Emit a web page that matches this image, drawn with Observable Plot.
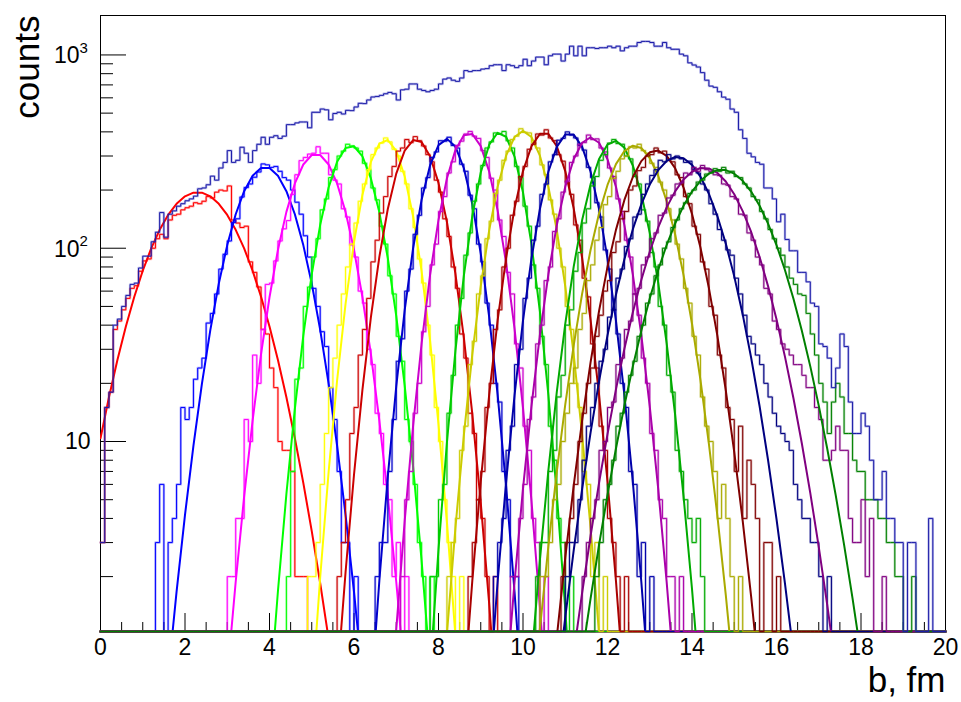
<!DOCTYPE html>
<html>
<head>
<meta charset="utf-8">
<script src="https://cdn.jsdelivr.net/npm/d3@7"></script>
<script src="https://cdn.jsdelivr.net/npm/@observablehq/plot@0.6"></script>
<style>
  body { margin: 0; background: #fff; }
  #chart { width: 961px; height: 702px; }
</style>
</head>
<body>
<div id="chart"></div>
<script>
// Impact-parameter distributions: inclusive histogram, 19 selected classes and their Gaussian fits.
const binWidth = 0.1;     // fm
const nBins = 200;        // 0 .. 20 fm

// Inclusive histogram (counts per 0.1 fm bin)
const totalCounts = [
  3, 15, 18, 40, 43, 50, 57, 65, 66, 79,
  91, 91, 108, 121, 153, 114, 150, 156, 165, 170,
  176, 180, 186, 203, 205, 213, 236, 225, 260, 278,
  320, 278, 285, 333, 310, 278, 320, 345, 375, 345,
  375, 382, 370, 380, 436, 436, 445, 450, 450, 420,
  505, 505, 525, 520, 462, 498, 505, 495, 517, 515,
  538, 562, 560, 585, 606, 610, 618, 630, 640, 630,
  585, 660, 665, 708, 708, 665, 655, 645, 655, 665,
  708, 750, 760, 740, 730, 760, 830, 820, 830, 830,
  845, 850, 880, 890, 890, 830, 890, 880, 860, 880,
  950, 880, 930, 975, 975, 890, 990, 1010, 1010, 930,
  1010, 1110, 990, 1110, 990, 1090, 1090, 1080, 1090, 1090,
  1110, 1090, 1110, 1050, 1090, 1110, 1110, 1160, 1175, 1175,
  1160, 1110, 1110, 1160, 1090, 1070, 1070, 1010, 990, 910,
  887, 866, 810, 740, 690, 680, 645, 605, 590, 525,
  505, 410, 370, 310, 297, 278, 272, 205, 205, 180,
  137, 150, 111, 97, 97, 75, 75, 67, 52, 50,
  32, 31, 27, 19, 24, 36, 31, 16, 11, 11,
  14, 12, 8, 5, 5, 7, 4, 4, 3, 3,
  0, 3, 3, 0, 0, 0, 4, 0, 0, 0
];

// Class histograms: first bin index and counts from there on
const h01 = [3,15,18,38,42,48,55,62,64,76, 86,88,100,112,118,112,140,148,150,158, 162,165,172,170,175,185,182,195,200,198, 210,140,135,128,130,85,75,63,38,36, 24,19,10,9,9,7,2,2,2];
const h02 = [3,6,0,3,4,6,15,13,15,21, 24,27,41,46,58,78,93,109,136,142, 184,206,215,233,248,273,270,262,265,250, 232,225,200,173,150,116,90,62,50,37, 31,19,13,7,3,3,0,2];
const h03 = [2,2,4,4,13,10,28,20,38,65, 66,86,109,126,139,190,240,284,295,307, 310,335,310,310,240,225,215,160,145,104, 90,60,52,30,25,14,11,6,5,2, 3,0,2];
const h04 = [2,7,21,24,50,63,90,112,158,180, 232,255,300,318,345,338,330,318,275,255, 205,178,130,105,72,58,35,26,13,10, 6,3,2,0,2];
const h05 = [2,2,3,6,11,19,27,40,58,80, 105,135,175,215,255,305,330,350,372,355, 325,300,250,215,160,128,88,66,40,28, 15,10,5,3,2,0,2];
const h06 = [2,3,5,11,15,28,38,55,85,110, 152,185,235,265,318,330,365,352,378,360, 338,305,280,225,195,142,115,80,62,36, 27,14,11,5,4,2,0,2];
const h07 = [2,3,3,7,13,26,34,60,78,118, 148,205,232,295,315,360,358,375,340,330, 272,250,188,160,105,85,52,40,20,16, 7,5,2,2];
const h08 = [2,5,7,14,20,37,50,82,105,155, 185,245,280,340,358,390,402,380,370,320, 295,230,200,140,115,75,58,32,24,12, 9,4,3,0,2];
const h09 = [2,2,5,6,14,22,40,55,92,120, 175,215,268,330,355,395,392,402,360,330, 265,232,165,130,82,62,35,25,12,8, 4,3,0,2];
const h10 = [2,3,4,9,12,25,33,58,72,112, 138,192,225,285,318,365,380,415,398,395, 352,330,270,240,178,150,100,80,50,38, 20,15,7,6,2,3,0,2];
const h11 = [2,3,5,7,15,20,38,48,80,100, 148,175,235,265,325,345,390,385,410,372, 360,305,282,220,190,132,110,70,56,32, 24,12,9,4,3,2,0,2];
const h12 = [2,3,4,9,12,25,30,55,70,110, 130,190,215,280,305,362,370,400,385,372, 340,322,262,232,172,145,98,78,48,36, 20,15,7,6,2,3,0,2];
const h13 = [2,2,4,6,13,17,32,40,68,80, 122,142,195,222,278,300,345,352,385,365, 368,330,315,260,235,180,155,110,90,58, 45,27,20,11,9,5,4,2,2,0,2];
const h14 = [2,3,3,7,9,17,22,40,48,76, 95,135,160,210,235,285,305,350,365,348, 345,300,290,235,215,158,138,95,80,50, 40,22,18,9,7,5,4,3,4,2];
const h15 = [2,2,3,5,6,10,14,20,24,38, 46,68,82,110,128,168,185,230,250,290, 300,335,330,345,320,310,275,262,220,200, 160,140,105,88,62,52,35,28,17,12, 10,7,4,6,4,2,0,2];
const h16 = [2,3,4,6,10,14,20,24,35,45, 60,68,95,108,142,155,200,210,252,262, 300,305,330,312,318,285,280,240,232,185, 170,130,118,85,78,50,45,28,24,15, 13,7,12,4,8,6,4,0,3,3, 0,2];
const h17 = [2,3,3,5,8,12,15,20,26,30, 44,48,70,78,102,112,145,150,190,215, 238,255,285,280,305,290,300,290,278,282, 255,245,215,200,170,150,125,110,98,92, 70,58,45,35,32,28,25,20,17,14, 12,11,10,9,6,5,4,4,3,3, 2,0,2];
const h18 = [2,3,4,5,9,10,15,16,25,27, 38,42,58,62,82,90,112,120,148,152, 182,188,215,218,245,240,262,250,268,255, 250,240,238,215,212,185,180,150,148,120, 110,90,82,62,58,42,38,32,30,28, 25,25,22,19,19,15,13,8,8,9, 12,9,9,4,3,3,5,2,4,0, 0,2];
const h19 = [2,3,5,6,8,12,14,18,22,26, 35,40,52,58,72,82,100,108,128,140, 160,172,192,200,220,225,242,245,258,250, 262,245,250,235,232,215,205,185,178,155, 142,125,112,100,92,80,70,65,58,57, 46,36,28,20,16,11,16,20,17,11, 11,8,7,7,5,5,5,4,4,3, 3,2,2,0,0,2];

const classCounts = [h01, h02, h03, h04, h05, h06, h07, h08, h09, h10, h11, h12, h13, h14, h15, h16, h17, h18, h19];
const classStart  = [0, 13, 30, 44, 49, 56, 65, 71, 78, 82, 87, 93, 97, 103, 104, 109, 110, 114, 117];
const classColors = [
  "#ff0000", "#0000ff", "#ff00ff", "#00ff00", "#ffff00",
  "#cc0000", "#0000cc", "#cc00cc", "#00cc00", "#cccc00",
  "#aa0000", "#0000aa", "#aa00aa", "#00aa00", "#aaaa00",
  "#800000", "#000080", "#800080", "#008000"
];

// Gaussian fit parameters for each class
const fitMean  = [2.30, 3.90, 5.10, 5.93, 6.75, 7.47, 8.19, 8.72, 9.45, 10.00, 10.50, 11.10, 11.60, 12.17, 12.64, 13.15, 13.65, 14.28, 14.70];
const fitSigma = [0.95, 0.66, 0.595, 0.531, 0.48, 0.52, 0.49, 0.50, 0.46, 0.52, 0.52, 0.52, 0.553, 0.56, 0.66, 0.69, 0.80, 0.905, 0.97];
const fitAmp   = [195, 263, 308, 340, 365, 366, 368, 395, 398, 405, 398, 395, 375, 360, 340, 321, 297, 261, 255];

// Axis ticks
const xMajor = [0, 2, 4, 6, 8, 10, 12, 14, 16, 18, 20];
const xMinor = [0.5, 1, 1.5, 2.5, 3, 3.5, 4.5, 5, 5.5, 6.5, 7, 7.5, 8.5, 9, 9.5, 10.5, 11, 11.5,
                12.5, 13, 13.5, 14.5, 15, 15.5, 16.5, 17, 17.5, 18.5, 19, 19.5];
const yMajor = [10, 100, 1000];
const yMinor = [2, 3, 4, 5, 6, 7, 8, 9, 20, 30, 40, 50, 60, 70, 80, 90, 200, 300, 400, 500, 600, 700, 800, 900];
const yPowers = [100, 1000];   // labelled as 10 with an exponent

const yMin = 1.04, yMax = 1600;
const W = 961, H = 702;
const mL = 100, mR = 16, mT = 15, mB = 71;
const innerW = W - mL - mR, innerH = H - mT - mB;

// Step outline of a histogram over the full axis range; empty bins sit on the bottom edge.
function stepPoints(start, counts) {
  const pts = [];
  for (let i = 0; i < nBins; i++) {
    const k = i - start;
    const c = (k >= 0 && k < counts.length) ? counts[k] : 0;
    const v = Math.max(c, yMin);
    pts.push({x: i * binWidth, y: v}, {x: (i + 1) * binWidth, y: v});
  }
  return pts;
}

// Fit function sampled at 100 steps over the axis range
function gaussPoints(m, s, a) {
  const pts = [];
  for (let j = 0; j <= 100; j++) {
    const b = j * 0.2;
    pts.push({x: b, y: Math.max(a * Math.exp(-((b - m) ** 2) / (2 * s * s)), 1e-3)});
  }
  return pts;
}

const font = "'Liberation Sans', Arial, Helvetica, sans-serif";
const marks = [
  Plot.frame({stroke: "#000", strokeWidth: 1}),
  // inward ticks
  Plot.tickX(xMajor, {x: d => d, insetTop: innerH - 18, stroke: "#000", strokeWidth: 1}),
  Plot.tickX(xMinor, {x: d => d, insetTop: innerH - 9, stroke: "#000", strokeWidth: 1}),
  Plot.tickY(yMajor, {y: d => d, insetRight: innerW - 26, stroke: "#000", strokeWidth: 1}),
  Plot.tickY(yMinor, {y: d => d, insetRight: innerW - 13, stroke: "#000", strokeWidth: 1}),
  Plot.axisX(xMajor, {tickSize: 0, tickPadding: 7, fontSize: 23, label: null, tickFormat: d => String(d)}),
  // y labels: plain "10", then 10² and 10³ with a raised exponent
  Plot.text([10], {y: d => d, frameAnchor: "left", text: () => "10", textAnchor: "end", dx: -10, fontSize: 23}),
  Plot.text(yPowers, {y: d => d, frameAnchor: "left", text: () => "10", textAnchor: "end", dx: -21, dy: 1, fontSize: 23}),
  Plot.text(yPowers, {y: d => d, frameAnchor: "left", text: d => String(Math.round(Math.log10(d))),
    textAnchor: "start", dx: -21, dy: -7, fontSize: 15}),
  Plot.text(["counts"], {frameAnchor: "top-left", text: d => d, rotate: -90, textAnchor: "end",
    lineAnchor: "bottom", dx: -62, fontSize: 35}),
  Plot.text(["b, fm"], {frameAnchor: "bottom-right", text: d => d, textAnchor: "end",
    lineAnchor: "bottom", dy: 60, fontSize: 35})
];

classCounts.forEach((counts, k) => {
  const pts = stepPoints(classStart[k], counts);
  marks.push(Plot.line(pts, {x: "x", y: "y", stroke: classColors[k], strokeWidth: 2.4, strokeOpacity: 0.3}));
  marks.push(Plot.line(pts, {x: "x", y: "y", stroke: classColors[k], strokeWidth: 1}));
  marks.push(Plot.line(gaussPoints(fitMean[k], fitSigma[k], fitAmp[k]),
    {x: "x", y: "y", stroke: classColors[k], strokeWidth: 2, clip: true}));
});

const totalPts = stepPoints(0, totalCounts);
marks.push(Plot.line(totalPts, {x: "x", y: "y", stroke: "#3a3ac0", strokeWidth: 2.4, strokeOpacity: 0.35}));
marks.push(Plot.line(totalPts, {x: "x", y: "y", stroke: "#1c1ca8", strokeWidth: 1}));

const chart = Plot.plot({
  width: W, height: H,
  marginLeft: mL, marginRight: mR, marginTop: mT, marginBottom: mB,
  style: {background: "#fff", fontFamily: font, color: "#000", overflow: "visible"},
  x: {domain: [0, 20]},
  y: {type: "log", domain: [yMin, yMax], axis: null},
  marks
});
document.getElementById("chart").appendChild(chart);
</script>
</body>
</html>
